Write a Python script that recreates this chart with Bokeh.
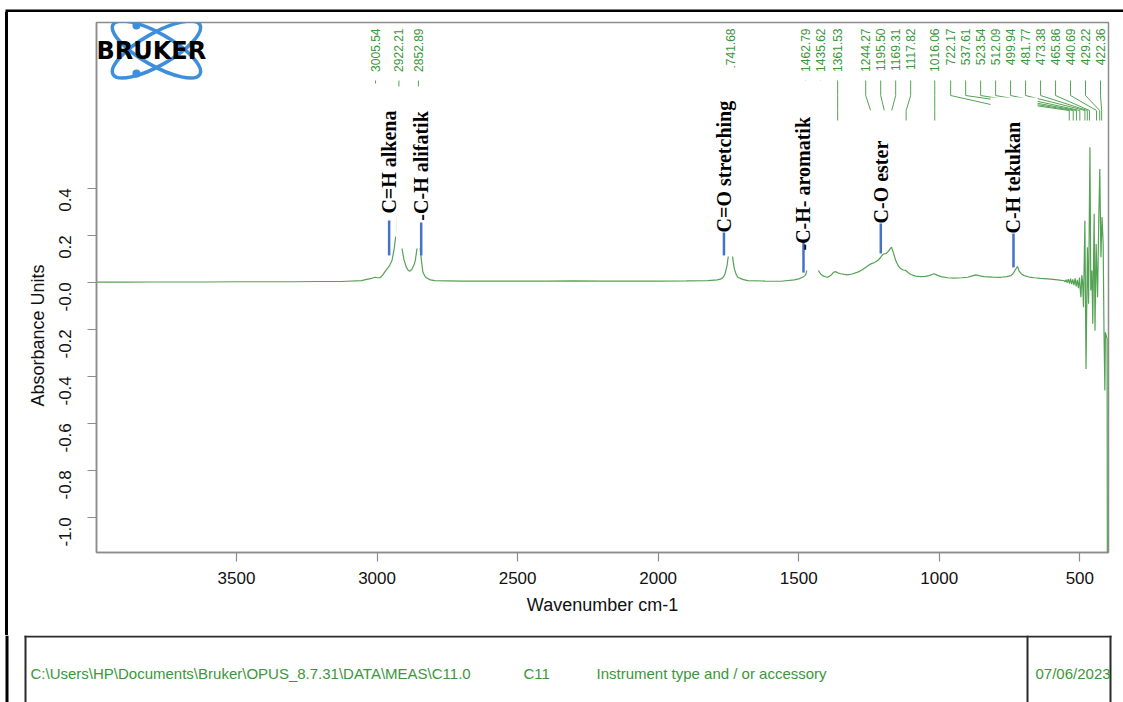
import math

from bokeh.core.properties import value
from bokeh.embed import file_html
from bokeh.layouts import column, row
from bokeh.models import CustomJSTickFormatter, FixedTicker, Range1d, Spacer
from bokeh.plotting import figure
from bokeh.resources import INLINE

# ---------------------------------------------------------------- data
# FTIR absorbance spectrum, sample C11 (wavenumber in cm-1, absorbance units)
WAVENUMBER = [
    3998, 3900, 3800, 3700, 3600, 3500, 3400, 3300, 3200, 3127,
    3056, 3020, 3008, 2998, 2990, 2980, 2973, 2962, 2955, 2947,
    2940, 2934, 2928, 2922, 2916, 2911, 2904, 2896, 2890, 2884,
    2876, 2868, 2864, 2857, 2852, 2847, 2842, 2837, 2830, 2825,
    2810, 2795, 2700, 2600, 2500, 2400, 2300, 2200, 2100, 2000,
    1900, 1823, 1790, 1776, 1768, 1762, 1755, 1751, 1746, 1741.7,
    1737, 1735, 1732, 1729, 1723, 1717, 1700, 1681, 1620, 1563,
    1516, 1500, 1486, 1478, 1474, 1470, 1466, 1462.8, 1455, 1446,
    1435.6, 1430, 1427, 1421, 1415, 1405, 1397, 1385, 1377, 1370,
    1361, 1350, 1338, 1326, 1310, 1290, 1275, 1261, 1250, 1243,
    1230, 1219, 1210, 1201, 1195, 1190, 1182, 1175, 1170, 1163,
    1155, 1145, 1137, 1128, 1119, 1110, 1101, 1085, 1065, 1050,
    1036, 1025, 1018, 1008, 994, 970, 947, 920, 899, 885,
    870, 855, 840, 810, 781, 760, 745, 738, 734, 728,
    722, 719, 716, 708, 698, 680, 662, 640, 615, 595,
    579, 565, 556, 552, 549, 545, 541, 537, 533, 529,
    525, 521, 517, 513, 509, 505, 501, 498, 496, 493,
    490, 487, 482, 478, 473, 469, 464, 461, 457, 454,
    449, 446, 442, 437, 432, 429, 425, 421, 417, 414,
    411, 409, 405, 403, 402,
]
ABSORBANCE = [
    0.000, 0.000, 0.001, 0.001, 0.001, 0.002, 0.002, 0.002, 0.003, 0.003,
    0.007, 0.016, 0.021, 0.019, 0.019, 0.030, 0.043, 0.060, 0.072, 0.092,
    0.135, 0.190, 0.280, 0.360, 0.230, 0.142, 0.095, 0.064, 0.052, 0.047,
    0.055, 0.075, 0.092, 0.150, 0.220, 0.150, 0.092, 0.043, 0.026, 0.019,
    0.010, 0.007, 0.005, 0.005, 0.005, 0.005, 0.006, 0.005, 0.005, 0.005,
    0.006, 0.007, 0.010, 0.014, 0.022, 0.036, 0.071, 0.106, 0.160, 0.200,
    0.150, 0.106, 0.080, 0.057, 0.035, 0.021, 0.012, 0.007, 0.005, 0.004,
    0.010, 0.014, 0.021, 0.028, 0.036, 0.058, 0.085, 0.100, 0.080, 0.066,
    0.068, 0.052, 0.043, 0.034, 0.028, 0.023, 0.021, 0.030, 0.041, 0.045,
    0.040, 0.036, 0.033, 0.031, 0.035, 0.043, 0.052, 0.064, 0.073, 0.078,
    0.084, 0.092, 0.104, 0.118, 0.121, 0.121, 0.130, 0.142, 0.149, 0.125,
    0.092, 0.068, 0.057, 0.052, 0.050, 0.040, 0.033, 0.026, 0.024, 0.025,
    0.028, 0.033, 0.036, 0.030, 0.024, 0.019, 0.017, 0.019, 0.021, 0.026,
    0.031, 0.027, 0.024, 0.022, 0.021, 0.024, 0.028, 0.036, 0.043, 0.055,
    0.067, 0.058, 0.047, 0.035, 0.028, 0.022, 0.019, 0.016, 0.014, 0.012,
    0.010, 0.008, 0.007, 0.002, 0.011, -0.002, 0.013, -0.006, 0.015, -0.008,
    0.012, -0.012, 0.016, -0.018, 0.010, -0.025, 0.020, -0.040, -0.064, 0.030,
    0.000, -0.106, 0.262, -0.369, 0.149, -0.092, 0.574, -0.035, 0.050, -0.177,
    0.291, -0.206, 0.163, -0.064, 0.305, 0.482, 0.106, 0.277, 0.163, -0.206,
    -0.461, -0.213, -0.234, -0.240, -1.300,
]

# picked peaks (cm-1)
PEAK_WN = [
    3005.54, 2922.21, 2852.89, 1741.68, 1462.79, 1435.62, 1361.53,
    1244.27, 1195.50, 1169.31, 1117.82, 1016.06, 722.17, 537.61,
    523.54, 512.09, 499.94, 481.77, 473.38, 465.86, 440.69, 429.22, 422.36,
]

# band assignments: marker position and extent, text start
ANNOT_TEXT = ["C=H alkena", "-C-H alifatik", "C=O stretching",
              "-C-H- aromatik", "C-O ester", "C-H tekukan"]
ANNOT_WN = [2957, 2843, 1766, 1483, 1208, 736]
ANNOT_LINE_TOP = [0.263, 0.254, 0.212, 0.178, 0.250, 0.207]
ANNOT_LINE_BOTTOM = [0.114, 0.114, 0.114, 0.041, 0.122, 0.063]
ANNOT_TEXT_START = [0.292, 0.262, 0.212, 0.135, 0.250, 0.207]

X_TICKS = [3500, 3000, 2500, 2000, 1500, 1000, 500]
Y_TICKS = [-1.0, -0.8, -0.6, -0.4, -0.2, 0.0, 0.2, 0.4]
X_TITLE = "Wavenumber cm-1"
Y_TITLE = "Absorbance Units"

FOOTER_TEXT = ["C:\\Users\\HP\\Documents\\Bruker\\OPUS_8.7.31\\DATA\\MEAS\\C11.0",
               "C11", "Instrument type and / or accessory", "07/06/2023"]

# ---------------------------------------------------------------- layout
W, H = 1123, 702
TOP_STRIP = 12          # height of the strip holding the page's top rule
RULE_X0, RULE_W = 5, 3  # page's left rule
TITLE_X1 = 50           # right edge of the strip holding the y title
FOOT_Y = 635            # page y where the footer table starts
FL, FT = 95, 22         # page position of the plot frame
FW, FH = 1013, 530      # plot frame size
X0, X1 = 3998, 398
Y0, Y1 = -1.150, 1.105

GREEN_TEXT = "#3a973a"
GREEN_LINE = "#55a255"
BLUE = "#4472c4"
SANS = "Liberation Sans"
SERIF = "Liberation Serif"


def xd(px):
    """page x pixel -> wavenumber"""
    return X0 - (px - FL) / FW * (X0 - X1)


def yd(py):
    """page y pixel -> absorbance"""
    return Y1 - (py - FT) / FH * (Y1 - Y0)


def xp(w):
    """wavenumber -> page x pixel"""
    return FL + (X0 - w) / (X0 - X1) * FW


def spread_labels(px, gap, right_limit):
    """push crowded label positions apart, keeping groups centred on their peaks"""
    groups = [[v] for v in sorted(px)]

    def start(g):
        s = sum(g) / len(g) - (len(g) - 1) * gap / 2
        return min(s, right_limit - (len(g) - 1) * gap)

    merged = True
    while merged:
        merged = False
        for i in range(len(groups) - 1):
            a, b = groups[i], groups[i + 1]
            if start(a) + len(a) * gap > start(b):
                groups[i:i + 2] = [a + b]
                merged = True
                break
    out = []
    for g in groups:
        s = start(g)
        out.extend(s + k * gap for k in range(len(g)))
    return out


def blank(width, height, x_range, y_range, borders=(0, 0, 0, 0)):
    """axis-less figure used for page furniture"""
    f = figure(width=width, height=height, x_range=x_range, y_range=y_range,
               output_backend="svg", toolbar_location=None,
               x_axis_type=None, y_axis_type=None,
               min_border_left=borders[0], min_border_right=borders[1],
               min_border_top=borders[2], min_border_bottom=borders[3])
    f.grid.visible = False
    f.outline_line_color = None
    f.background_fill_color = "white"
    f.border_fill_color = "white"
    return f


# ---------------------------------------------------------------- spectrum plot
main_h = FOOT_Y - TOP_STRIP
main_w = W - TITLE_X1
b_left = FL - TITLE_X1
b_top = FT - TOP_STRIP
b_bottom = main_h - b_top - FH
p = figure(width=main_w, height=main_h, x_range=Range1d(X0, X1), y_range=Range1d(Y0, Y1),
           output_backend="svg", toolbar_location=None,
           min_border_left=b_left, min_border_right=main_w - b_left - FW,
           min_border_top=b_top, min_border_bottom=b_bottom)
p.grid.visible = False
p.background_fill_color = "white"
p.border_fill_color = "white"
p.outline_line_color = "#8c8c8c"
p.outline_line_width = 1.5

xa = p.xaxis[0]
xa.ticker = FixedTicker(ticks=X_TICKS)
xa.axis_label = X_TITLE
xa.axis_label_standoff = 8
xa.major_label_standoff = 10
xa.axis_label_text_font = SANS
xa.axis_label_text_font_size = "18px"
xa.axis_label_text_font_style = "normal"
xa.axis_label_text_color = "#111111"

ya = p.yaxis[0]
ya.ticker = FixedTicker(ticks=Y_TICKS)
ya.formatter = CustomJSTickFormatter(
    code="return (tick <= 0 ? '-' : '') + Math.abs(tick).toFixed(1);")
ya.major_label_orientation = math.pi / 2
ya.major_label_standoff = 22

for ax in (xa, ya):
    ax.axis_line_color = "#8c8c8c"
    ax.axis_line_width = 1.5
    ax.major_tick_line_color = "#8c8c8c"
    ax.major_tick_line_width = 1.2
    ax.major_tick_in = 0
    ax.major_tick_out = 9
    ax.minor_tick_line_color = None
    ax.major_label_text_font = SANS
    ax.major_label_text_font_size = "17px"
    ax.major_label_text_color = "#111111"

p.line(WAVENUMBER, ABSORBANCE, line_color=GREEN_LINE, line_width=1.2)

# peak-pick labels with their leader lines
peak_px = [xp(w) for w in PEAK_WN]
label_px = spread_labels(peak_px, 15, 1100)
p.text(x=[xd(v) for v in label_px], y=[yd(28)] * len(PEAK_WN),
       text=[f"{w:.2f}" for w in PEAK_WN], angle=math.pi / 2,
       text_align="right", text_baseline="middle",
       text_font=value(SANS), text_font_size="12px", text_color=GREEN_TEXT)
p.multi_line(xs=[[xd(lx), xd(lx), w, w] for lx, w in zip(label_px, PEAK_WN)],
             ys=[[yd(80), yd(95), yd(110), yd(120)] for _ in PEAK_WN],
             line_color=GREEN_LINE, line_width=1)

# white backgrounds of the assignment text boxes
masks = [(363, 395, 83, 236), (395, 432, 86, 248), (713, 745, 67, 256),
         (795, 827, 80, 270), (860, 900, 110, 226), (990, 1037, 97, 235)]
p.quad(left=[xd(m[0]) for m in masks], right=[xd(m[1]) for m in masks],
       top=[yd(m[2]) for m in masks], bottom=[yd(m[3]) for m in masks],
       fill_color="white", line_color=None)

# band assignments
p.segment(x0=ANNOT_WN, y0=ANNOT_LINE_BOTTOM, x1=ANNOT_WN, y1=ANNOT_LINE_TOP,
          line_color=BLUE, line_width=2.5)
p.text(x=ANNOT_WN, y=ANNOT_TEXT_START, text=ANNOT_TEXT, angle=math.pi / 2,
       text_align="left", text_baseline="middle", text_font=value(SERIF),
       text_font_size="20px", text_font_style="bold", text_color="black")

# logo
p.ellipse(x=[xd(155), xd(155)], y=[yd(49), yd(49)], width=[100, 100], height=[32, 32],
          angle=[-0.52, 0.52], width_units="screen", height_units="screen",
          fill_color=None, line_color="#3d8fdc", line_width=3.5)
p.scatter(x=[xd(135), xd(135)], y=[yd(25), yd(73)], size=8,
          fill_color="#3d8fdc", line_color=None)
p.text(x=[xd(95)], y=[yd(50)], text=["BRUKER"], text_align="left",
       text_baseline="middle", text_font=value("DejaVu Sans"),
       text_font_size="24px", text_font_style="bold", text_color="black")

# ---------------------------------------------------------------- y title strip
title_x0 = RULE_X0 + RULE_W
ytitle = blank(TITLE_X1 - title_x0, main_h, Range1d(title_x0, TITLE_X1), Range1d(Y0, Y1),
               borders=(0, 0, b_top, b_bottom))
ytitle.text(x=[37], y=[yd(335)], text=[Y_TITLE], angle=math.pi / 2,
            text_align="center", text_baseline="middle", text_font=value(SANS),
            text_font_size="18px", text_color="#111111")

# ---------------------------------------------------------------- page rules
top = blank(W, TOP_STRIP, Range1d(0, W), Range1d(TOP_STRIP, 0))
top.quad(left=[RULE_X0], right=[W], top=[9], bottom=[12], fill_color="black", line_color=None)

gap_left = Spacer(width=RULE_X0, height=main_h)
left_rule = Spacer(width=RULE_W, height=main_h, styles={"background-color": "black"})

# ---------------------------------------------------------------- footer table
foot = blank(W, H - FOOT_Y, Range1d(0, W), Range1d(H, FOOT_Y))
rules = [(RULE_X0, RULE_X0 + RULE_W, FOOT_Y, H, "black"),
         (24, 1111, 635, 637, "#2b2b2b"),
         (24, 26, 635, H, "#2b2b2b"),
         (1026, 1028, 635, H, "#2b2b2b"),
         (1109, 1111, 635, H, "#2b2b2b")]
foot.quad(left=[r[0] for r in rules], right=[r[1] for r in rules],
          top=[r[2] for r in rules], bottom=[r[3] for r in rules],
          fill_color=[r[4] for r in rules], line_color=None)
foot.text(x=[30, 523, 596, 1035], y=[673] * 4, text=FOOTER_TEXT,
          text_align="left", text_baseline="middle", text_font=value(SANS),
          text_font_size="15px", text_color=GREEN_TEXT)

middle = row(gap_left, left_rule, ytitle, p)
page = column(top, middle, foot)
open("out.html", "w").write(file_html(page, INLINE))
